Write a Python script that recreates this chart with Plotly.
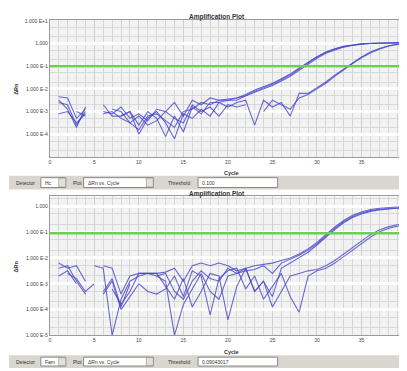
import plotly.graph_objects as go

# The page body has an 8px margin, so the figure is drawn 8px in from the window edges.
OFF = 8
W, H = 407 - OFF, 371 - OFF

cycles = list(range(1, 41))

# log10(ΔRn) (Detector Hc); None = not shown (gap)
top_logs = {
    "top_a1": [-2.35, -2.4, -3.3, -2.9, None, -3.0, -3.1, -2.8, -3.3, -3.1, -3.4, -2.9, -3.0, -2.6, -3.2, -2.5, -2.7, -2.4, -2.5, -2.45,
               -2.4, -2.3, -2.1, -1.95, -1.8, -1.6, -1.4, -1.12, -0.85, -0.6, -0.4, -0.25, -0.14, -0.07, -0.02, 0.0, 0.02, 0.03, 0.03, 0.04],
    "top_a2": [-2.6, -2.7, -3.6, -3.0, None, None, -2.9, -3.0, -3.5, -3.8, -3.2, -3.1, -3.4, -3.7, -3.0, -2.9, -2.6, -2.7, -2.5, -2.5,
               -2.4, -2.25, -2.05, -1.9, -1.75, -1.55, -1.35, -1.08, -0.82, -0.58, -0.38, -0.23, -0.12, -0.05, -0.01, 0.01, 0.02, 0.03, 0.04, 0.04],
    "top_a3": [-3.1, -3.0, -3.5, -3.1, None, -2.7, -3.2, -3.2, -3.0, -3.6, -3.0, -3.3, -4.1, -3.2, -3.9, -2.8, -3.1, -2.6, -2.6, -2.5,
               -2.5, -2.3, -2.15, -2.0, -1.85, -1.65, -1.45, -1.18, -0.9, -0.65, -0.43, -0.28, -0.16, -0.08, -0.03, 0.0, 0.01, 0.02, 0.03, 0.03],
    "top_b1": [-2.5, -2.9, -3.7, -2.8, None, None, None, -3.2, -3.0, -4.0, -3.3, -3.0, -3.5, -4.2, -3.1, -3.3, -2.9, -3.2, -2.6, -2.8,
               -2.6, -2.5, -3.6, -2.5, -2.8, -2.6, -3.2, -2.2, -2.2, -1.95, -1.7, -1.4, -1.12, -0.85, -0.6, -0.38, -0.22, -0.1, -0.02, 0.03],
    "top_b2": [None, None, -3.0, -3.2, None, -3.1, -3.0, -3.3, -3.5, -3.2, -3.6, -3.4, -3.0, -3.3, -3.5, -2.7, -3.0, -2.8, -3.2, -2.7,
               -2.8, -2.7, None, -3.0, -2.5, -2.7, -2.9, -2.4, -2.25, -2.0, -1.75, -1.45, -1.15, -0.88, -0.63, -0.42, -0.25, -0.12, -0.04, 0.01],
}

# log10(ΔRn) (Detector Fam)
bottom_logs = {
    "bot_a1": [-2.2, -2.4, -2.3, -2.9, None, -2.3, -2.4, -3.4, -2.7, -2.6, -2.6, -2.6, -2.55, -2.4, -2.9, -2.3, -2.2, -2.3, -2.2, -2.3,
               -2.5, -2.4, -2.3, -2.25, -2.2, -2.1, -2.0, -1.85, -1.65, -1.4, -1.1, -0.8, -0.55, -0.35, -0.22, -0.13, -0.08, -0.05, -0.03, -0.02],
    "bot_a2": [-2.4, -2.3, -2.9, -3.4, None, -3.3, -2.8, -3.9, -3.0, None, None, -2.7, -2.6, -3.3, -3.6, -2.9, -2.5, -2.8, -2.9, -2.4,
               -2.6, -2.5, -2.45, -2.3, -2.6, -2.2, -2.05, -1.9, -1.7, -1.45, -1.15, -0.85, -0.6, -0.4, -0.26, -0.17, -0.12, -0.09, -0.07, -0.06],
    "bot_a3": [None, -2.6, -2.8, -3.3, -3.0, None, -3.2, -3.8, -3.3, -2.6, -2.6, -2.7, -2.9, -5.0, -3.8, -3.2, -2.6, -3.3, -3.6, -2.7,
               -2.6, -2.4, -3.3, -2.9, -3.5, -2.4, -2.2, -2.0, -1.78, -1.5, -1.2, -0.9, -0.64, -0.44, -0.3, -0.2, -0.14, -0.1, -0.08, -0.07],
    "bot_b1": [-2.7, -2.5, -3.0, None, -2.3, -2.4, -5.0, -3.6, -2.9, -2.7, -2.6, -2.6, -3.1, -3.6, -2.8, -3.9, -3.3, -2.6, -2.7, -4.4,
               -3.1, -2.4, -3.3, -2.9, -3.9, -3.3, -2.7, -2.6, -2.5, -2.45, -2.3, -2.1, -1.85, -1.6, -1.35, -1.1, -0.92, -0.8, -0.72, -0.66],
    "bot_b2": [None, None, None, -3.2, None, -3.4, -2.9, -4.0, -3.5, -3.0, -3.3, -3.4, -3.2, -2.7, -3.5, -2.5, -2.7, -4.2, -2.8, -2.5,
               -2.4, -3.2, -2.7, -3.6, -3.1, -2.6, -3.5, -4.1, -2.7, -2.5, -2.4, -2.2, -1.95, -1.7, -1.45, -1.2, -1.0, -0.86, -0.77, -0.7],
}

top_threshold = 0.100
bottom_threshold = 0.09043017
top_threshold_label = "0.100"
bottom_threshold_label = "0.09043017"
top_detector = "Hc"
bottom_detector = "Fam"
plot_type = "ΔRn vs. Cycle"

top_ticks = [10, 1, 0.1, 0.01, 0.001, 0.0001]
top_ticktext = ["1.000 E+1", "1.000", "1.000 E-1", "1.000 E-2", "1.000 E-3", "1.000 E-4"]
bottom_ticks = [1, 0.1, 0.01, 0.001, 0.0001, 0.00001]
bottom_ticktext = ["1.000", "1.000 E-1", "1.000 E-2", "1.000 E-3", "1.000 E-4", "1.000 E-5"]
x_ticks = [0, 5, 10, 15, 20, 25, 30, 35, 40]
marker_cycles = [3, 15]


def px(x):
    return (x - OFF) / W


def py(y):
    return 1 - (y - OFF) / H


LINE = "rgba(70,70,200,0.8)"
FONT = "Liberation Sans, Arial, sans-serif"

fig = go.Figure()


def add_series(logs, xa, ya):
    for name, vals in logs.items():
        yv = [None if v is None else 10 ** v for v in vals]
        fig.add_trace(go.Scatter(x=cycles, y=yv, xaxis=xa, yaxis=ya, mode="lines",
                                 line=dict(color=LINE, width=1.1), connectgaps=False,
                                 showlegend=False, hoverinfo="skip"))


add_series(top_logs, "x", "y")
add_series(bottom_logs, "x2", "y2")

# threshold lines
fig.add_trace(go.Scatter(x=[0, 40], y=[top_threshold, top_threshold], xaxis="x", yaxis="y", mode="lines",
                         line=dict(color="rgb(110,205,85)", width=2.5), showlegend=False, hoverinfo="skip"))
fig.add_trace(go.Scatter(x=[0, 40], y=[bottom_threshold, bottom_threshold], xaxis="x2", yaxis="y2", mode="lines",
                         line=dict(color="rgb(110,205,85)", width=2.5), showlegend=False, hoverinfo="skip"))

# red baseline markers
fig.add_trace(go.Scatter(x=marker_cycles, y=[10 ** -5.05] * 2, xaxis="x", yaxis="y", mode="markers",
                         marker=dict(color="rgb(220,60,60)", size=4, symbol="triangle-down"),
                         cliponaxis=False, showlegend=False, hoverinfo="skip"))
fig.add_trace(go.Scatter(x=marker_cycles, y=[10 ** -5.05] * 2, xaxis="x2", yaxis="y2", mode="markers",
                         marker=dict(color="rgb(220,60,60)", size=4, symbol="triangle-down"),
                         cliponaxis=False, showlegend=False, hoverinfo="skip"))

xcommon = dict(range=[0, 40], tickvals=x_ticks, showgrid=True, gridcolor="#cfcfcf", gridwidth=1,
               minor=dict(dtick=1, showgrid=True, gridcolor="#d6d6d6", gridwidth=1),
               showline=True, linecolor="#9a9a9a", mirror=True, zeroline=False,
               tickfont=dict(size=5, color="#444", family=FONT), ticks="", ticklen=0)
ycommon = dict(type="log", showgrid=True, gridcolor="#ffffff", gridwidth=3,
               minor=dict(showgrid=True, gridcolor="#d9d9d9", gridwidth=1),
               showline=True, linecolor="#9a9a9a", mirror=True, zeroline=False,
               tickfont=dict(size=5, color="#444", family=FONT), ticks="")

fig.update_layout(
    width=W, height=H, margin=dict(l=0, r=0, t=0, b=0),
    paper_bgcolor="white", plot_bgcolor="#f2f2f2",
    xaxis=dict(domain=[px(49), 1], anchor="y", **xcommon),
    yaxis=dict(domain=[py(157), py(18)], anchor="x", range=[-5, 1.04],
               tickvals=top_ticks, ticktext=top_ticktext, **ycommon),
    xaxis2=dict(domain=[px(49), 1], anchor="y2", **xcommon),
    yaxis2=dict(domain=[py(338), py(197)], anchor="x2", range=[-5, 0.38],
                tickvals=bottom_ticks, ticktext=bottom_ticktext, **ycommon),
)

shapes = []
ann = []


def control_bar(y0, y1, detector, thr):
    shapes.append(dict(type="rect", xref="paper", yref="paper", x0=0, x1=1, y0=py(y1), y1=py(y0),
                       fillcolor="#d9d6cf", line=dict(width=0), layer="below"))
    yc = (y0 + y1) / 2
    for (bx0, bx1) in [(40, 65), (83, 153), (198, 278)]:
        shapes.append(dict(type="rect", xref="paper", yref="paper", x0=px(bx0), x1=px(bx1),
                           y0=py(y1 - 2), y1=py(y0 + 2), fillcolor="white",
                           line=dict(color="#888", width=1)))
    for (bx0, bx1) in [(58, 65), (146, 153)]:
        shapes.append(dict(type="rect", xref="paper", yref="paper", x0=px(bx0), x1=px(bx1),
                           y0=py(y1 - 2.5), y1=py(y0 + 2.5), fillcolor="#e4e1da",
                           line=dict(color="#888", width=0.6)))
    items = [(13, "Detector"), (42, detector), (70, "Plot"), (85, plot_type), (166, "Threshold"), (200, thr)]
    for x, t in items:
        ann.append(dict(x=px(x), y=py(yc), xref="paper", yref="paper", text=t, showarrow=False,
                        xanchor="left", yanchor="middle", font=dict(size=5, color="#333", family=FONT)))


control_bar(176, 190, top_detector, top_threshold_label)
control_bar(358, 371, bottom_detector, bottom_threshold_label)

for ty in (15, 195):
    ann.append(dict(x=px(217), y=py(ty), xref="paper", yref="paper", text="<b>Amplification Plot</b>",
                    showarrow=False, xanchor="center", yanchor="middle",
                    font=dict(size=6.5, color="#333", family=FONT)))
for cy in (173, 355):
    ann.append(dict(x=px(232), y=py(cy), xref="paper", yref="paper", text="<b>Cycle</b>",
                    showarrow=False, xanchor="center", yanchor="middle",
                    font=dict(size=5.5, color="#333", family=FONT)))
for (rx, ry) in [(15, 88), (15, 268)]:
    ann.append(dict(x=px(rx), y=py(ry), xref="paper", yref="paper", text="<b>ΔRn</b>", textangle=-90,
                    showarrow=False, xanchor="center", yanchor="middle",
                    font=dict(size=5.5, color="#333", family=FONT)))

fig.update_layout(shapes=shapes, annotations=ann)
fig.write_html("out.html")
